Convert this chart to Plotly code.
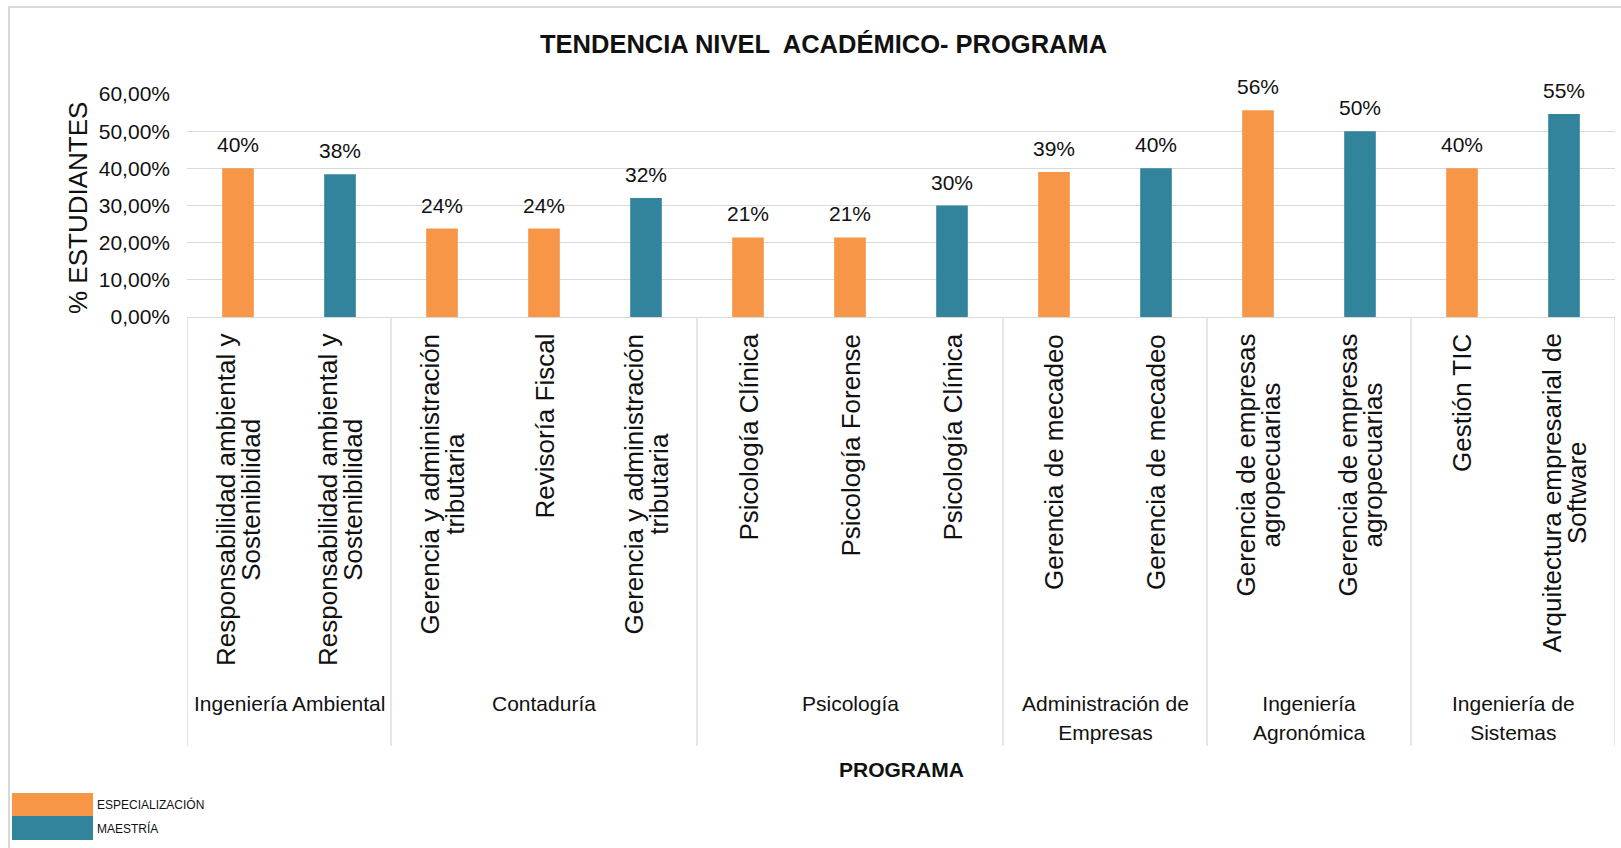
import plotly.graph_objects as go

# ---------------- data ----------------
programas = [
    "Responsabilidad ambiental y<br>Sostenibilidad",
    "Responsabilidad ambiental y<br>Sostenibilidad",
    "Gerencia y administración<br>tributaria",
    "Revisoría Fiscal",
    "Gerencia y administración<br>tributaria",
    "Psicología Clínica",
    "Psicología Forense",
    "Psicología Clínica",
    "Gerencia de mecadeo",
    "Gerencia de mecadeo",
    "Gerencia de empresas<br>agropecuarias",
    "Gerencia de empresas<br>agropecuarias",
    "Gestión TIC",
    "Arquitectura empresarial de<br>Software",
]
niveles = ["ESPECIALIZACIÓN", "MAESTRÍA", "ESPECIALIZACIÓN", "ESPECIALIZACIÓN", "MAESTRÍA",
           "ESPECIALIZACIÓN", "ESPECIALIZACIÓN", "MAESTRÍA", "ESPECIALIZACIÓN", "MAESTRÍA",
           "ESPECIALIZACIÓN", "MAESTRÍA", "ESPECIALIZACIÓN", "MAESTRÍA"]
valores = [0.40, 0.384, 0.238, 0.238, 0.32, 0.214, 0.214, 0.30, 0.39, 0.40,
           0.556, 0.50, 0.40, 0.546]
grupos = ["Ingeniería Ambiental", "Contaduría", "Psicología",
          "Administración de<br>Empresas", "Ingeniería<br>Agronómica", "Ingeniería de<br>Sistemas"]
grupo_tamanos = [2, 3, 3, 2, 2, 2]
series = ["ESPECIALIZACIÓN", "MAESTRÍA"]
colores = {"ESPECIALIZACIÓN": "#F79646", "MAESTRÍA": "#31849B"}

# ---------------- layout constants ----------------
W, H = 1621, 848
ML, MR, MT, MB = 187, 6, 94, 531
PW, PH = W - ML - MR, H - MT - MB
FONT = "Liberation Sans, Arial, sans-serif"
GRID = "#d9d9d9"
TXT = "#111111"

def px_x(px):
    return (px - ML) / PW

def px_y(py):
    return (H - MB - py) / PH

def sized(label, size):
    return "<br>".join(f'<span style="font-size:{size}px">{ln}</span>' for ln in label.split("<br>"))

x = list(range(len(programas)))

fig = go.Figure()
for s in series:
    fig.add_trace(go.Bar(
        x=x,
        y=[v if n == s else None for v, n in zip(valores, niveles)],
        name=s,
        marker=dict(color=colores[s], line=dict(width=0)),
        width=0.31,
        showlegend=False,
        hoverinfo="y",
    ))

annotations = []
shapes = []

# data labels
for i, v in enumerate(valores):
    annotations.append(dict(
        x=i, y=v, xref="x", yref="y", text=f"{round(v*100):d}%",
        showarrow=False, yanchor="bottom", yshift=10,
        font=dict(family=FONT, size=21, color=TXT),
    ))

# rotated category labels (line spacing set by base size, glyphs by span size)
for i, p in enumerate(programas):
    annotations.append(dict(
        x=i, y=px_y(332), xref="x", yref="paper", text=sized(p, 26), textangle=-90,
        showarrow=False, xanchor="center", yanchor="top", align="center",
        font=dict(family=FONT, size=19.5, color=TXT),
    ))

# group labels and dividers
start = 0
bounds = [-0.5]
for g, n in zip(grupos, grupo_tamanos):
    center = start + (n - 1) / 2
    annotations.append(dict(
        x=center, y=px_y(690), xref="x", yref="paper", text=sized(g, 21),
        showarrow=False, xanchor="center", yanchor="top", align="center",
        font=dict(family=FONT, size=22.5, color=TXT),
    ))
    start += n
    bounds.append(start - 0.5)

for b in bounds:
    shapes.append(dict(
        type="line", xref="x", yref="paper", x0=b, x1=b,
        y0=0, y1=px_y(746), line=dict(color=GRID, width=1.3), layer="below",
    ))

# title, axis titles
annotations.append(dict(
    x=px_x(823), y=px_y(44), xref="paper", yref="paper", xanchor="center", yanchor="middle",
    text="<b>TENDENCIA NIVEL  ACADÉMICO- PROGRAMA</b>",
    showarrow=False, font=dict(family=FONT, size=25.5, color=TXT),
))
annotations.append(dict(
    x=0.5, y=px_y(769), xref="paper", yref="paper", xanchor="center", yanchor="middle",
    text="<b>PROGRAMA</b>", showarrow=False,
    font=dict(family=FONT, size=21, color=TXT),
))
annotations.append(dict(
    x=px_x(78), y=px_y(208), xref="paper", yref="paper", xanchor="center", yanchor="middle",
    text="% ESTUDIANTES", textangle=-90, showarrow=False,
    font=dict(family=FONT, size=26, color=TXT),
))

# custom legend
leg_rows = [(793, 816), (816, 840)]
for s, (t, b) in zip(series, leg_rows):
    shapes.append(dict(
        type="rect", xref="paper", yref="paper",
        x0=px_x(12), x1=px_x(93), y0=px_y(b), y1=px_y(t),
        fillcolor=colores[s], line=dict(width=0),
    ))
    annotations.append(dict(
        x=px_x(95), y=px_y((t + b) / 2), xref="paper", yref="paper",
        xanchor="left", yanchor="middle", text=s, showarrow=False,
        font=dict(family=FONT, size=12, color=TXT),
    ))

# outer frame
shapes.append(dict(
    type="rect", xref="paper", yref="paper",
    x0=px_x(9), x1=px_x(W + 20), y0=px_y(H + 20), y1=px_y(7),
    line=dict(color=GRID, width=2), fillcolor="rgba(0,0,0,0)", layer="below",
))

fig.update_layout(
    width=W, height=H,
    margin=dict(l=ML, r=MR, t=MT, b=MB, autoexpand=False),
    paper_bgcolor="white", plot_bgcolor="white",
    barmode="overlay",
    separators=",.",
    font=dict(family=FONT, color=TXT),
    annotations=annotations,
    shapes=shapes,
    xaxis=dict(range=[-0.5, len(programas) - 0.5], showticklabels=False,
               showgrid=False, zeroline=False, showline=False, fixedrange=True),
    yaxis=dict(range=[0, 0.6], dtick=0.1, tick0=0, tickformat=".2%",
               showgrid=True, gridcolor=GRID, gridwidth=1.3,
               zeroline=True, zerolinecolor=GRID, zerolinewidth=1.3,
               showline=False, ticks="", ticklabelstandoff=16,
               tickfont=dict(family=FONT, size=21, color=TXT),
               fixedrange=True),
)

fig.write_html("out.html", config={"displayModeBar": False},
               post_script="document.body.style.margin='0';document.body.style.overflow='hidden';")
